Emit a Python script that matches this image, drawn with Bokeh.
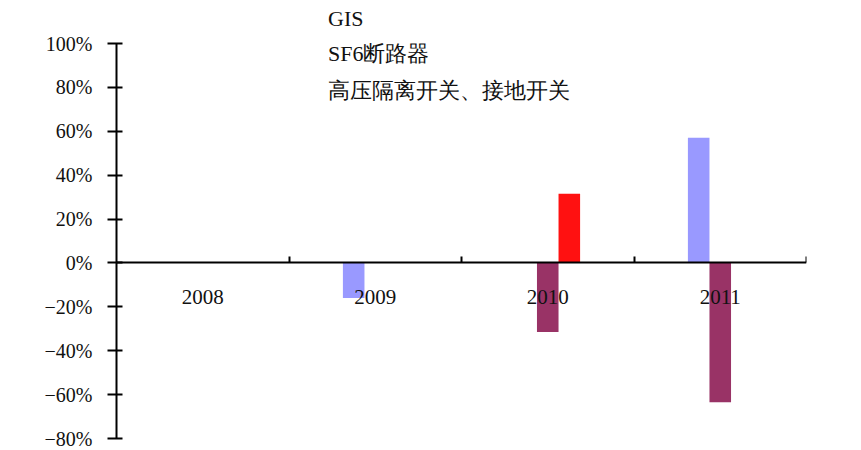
import numpy as np
from bokeh.plotting import figure
from bokeh.models import LinearAxis, FixedTicker, Legend, LegendItem
from bokeh.embed import file_html
from bokeh.resources import INLINE

# ---- data ----
categories = ["2008", "2009", "2010", "2011"]
series_names = ["GIS", "SF6断路器", "高压隔离开关、接地开关"]
gis = [np.nan, -0.16, np.nan, 0.57]
sf6 = [np.nan, np.nan, -0.315, -0.635]
hv_switch = [np.nan, np.nan, 0.315, np.nan]
y_ticks = [-0.8, -0.6, -0.4, -0.2, 0.0, 0.2, 0.4, 0.6, 0.8, 1.0]
y_tick_labels = ["−80%", "−60%", "−40%", "−20%", "0%", "20%", "40%", "60%", "80%", "100%"]

colors = ["#9999FF", "#993366", "#FF1111"]
series = [gis, sf6, hv_switch]

SERIF = "Liberation Serif"

# layout: value axis spans -80%..100% over 395 px, with 43 px of room above it
y_min, y_max = y_ticks[0], y_ticks[-1]
axis_px = 395.0
top_px = 43.0
y_end = y_max + top_px * (y_max - y_min) / axis_px

p = figure(width=861, height=450, x_range=(0, len(categories)), y_range=(y_min, y_end),
           output_backend="svg", toolbar_location=None, x_axis_location=None,
           min_border_left=116, min_border_right=55, min_border_top=0, min_border_bottom=12)
p.outline_line_color = None
p.xgrid.grid_line_color = None
p.ygrid.grid_line_color = None
p.background_fill_color = "white"
p.border_fill_color = "white"

centers = np.arange(len(categories)) + 0.5
bar_w = 0.125
offsets = [-bar_w, 0.0, bar_w]
renderers = []
for vals, off, col in zip(series, offsets, colors):
    r = p.vbar(x=centers + off, top=vals, bottom=0, width=bar_w,
               fill_color=col, line_color=None)
    renderers.append(r)

# y axis
ya = p.yaxis[0]
ya.bounds = (y_min, y_max)
ya.ticker = FixedTicker(ticks=y_ticks)
ya.major_label_overrides = {t: l for t, l in zip(y_ticks, y_tick_labels)}
ya.minor_tick_line_color = None
ya.major_tick_in = 6
ya.major_tick_out = 9
ya.major_tick_line_width = 2
ya.axis_line_width = 2
ya.axis_line_color = "black"
ya.major_tick_line_color = "black"
ya.major_label_standoff = 15
ya.major_label_text_font = SERIF
ya.major_label_text_font_size = "20px"
ya.major_label_text_color = "#111111"

# category axis at y=0: labels at category centres, small ticks at category boundaries
xa = LinearAxis(fixed_location=0,
                ticker=FixedTicker(ticks=list(centers),
                                   minor_ticks=list(range(1, len(categories) + 1))),
                major_label_overrides={float(c): lab for c, lab in zip(centers, categories)},
                major_tick_line_color=None,
                minor_tick_line_color="black", minor_tick_line_width=2,
                minor_tick_in=6, minor_tick_out=0,
                axis_line_color="black", axis_line_width=2,
                major_label_standoff=21,
                major_label_text_font=SERIF, major_label_text_font_size="21px",
                major_label_text_color="#111111")
p.add_layout(xa, "below")

legend = Legend(items=[LegendItem(label=n, renderers=[r]) for n, r in zip(series_names, renderers)],
                location=(212, 332), glyph_width=0, glyph_height=24, label_height=24,
                label_standoff=0, spacing=7, padding=0, margin=0,
                border_line_color=None, background_fill_alpha=0,
                label_text_font=SERIF, label_text_font_size="22px",
                label_text_color="#111111")
p.add_layout(legend, "center")

open("out.html", "w").write(file_html(p, INLINE))
